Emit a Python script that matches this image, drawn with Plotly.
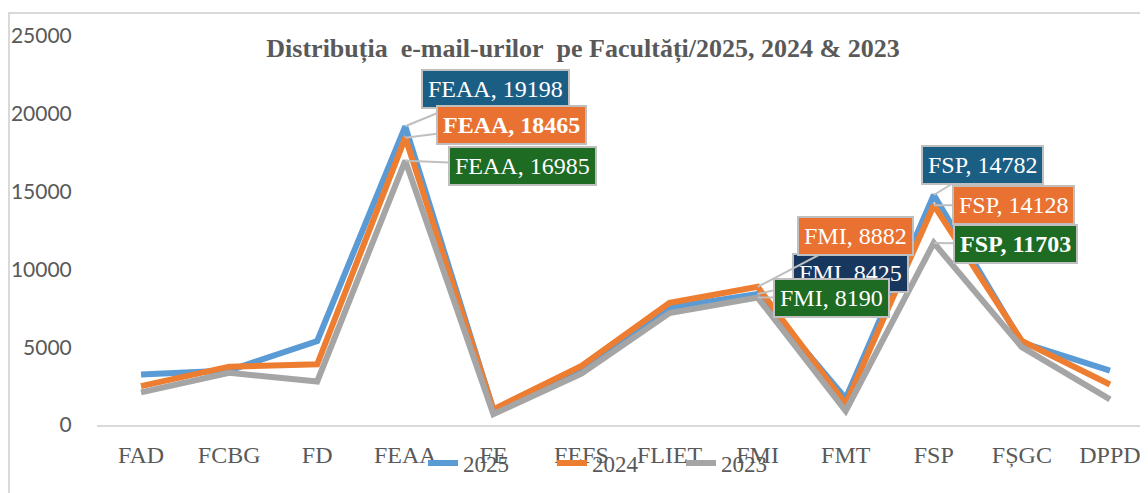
import plotly.graph_objects as go

categories = ["FAD", "FCBG", "FD", "FEAA", "FE", "FEFS", "FLIET", "FMI", "FMT", "FSP", "FȘGC", "DPPD"]
v2025 = [3250, 3500, 5400, 19198, 950, 3600, 7550, 8425, 1700, 14782, 5300, 3500]
v2024 = [2500, 3750, 3900, 18465, 1000, 3800, 7850, 8882, 1350, 14128, 5400, 2600]
v2023 = [2100, 3350, 2800, 16985, 700, 3300, 7200, 8190, 900, 11703, 5000, 1650]
series_names = ["2025", "2024", "2023"]
line_colors = ["#5B9BD5", "#ED7D31", "#A5A5A5"]
y_ticks = [0, 5000, 10000, 15000, 20000, 25000]

# labelled points: (series index, category, box colour, bold, pixel offset)
labels = [
    (0, "FEAA", "#1B5E84", False, (90, -37)),
    (1, "FEAA", "#E97132", True, (106, -13)),
    (2, "FEAA", "#1E6B24", False, (117, 5)),
    (0, "FMI", "#17375E", False, (93, -21)),
    (1, "FMI", "#E97132", False, (98, -51)),
    (2, "FMI", "#1E6B24", False, (74, 0)),
    (0, "FSP", "#1B5E84", False, (49, -30)),
    (1, "FSP", "#E97132", False, (80, 0)),
    (2, "FSP", "#1E6B24", True, (82, 1)),
]

all_values = [v2025, v2024, v2023]

fig = go.Figure()
for name, vals, col in zip(series_names, all_values, line_colors):
    fig.add_trace(go.Scatter(x=categories, y=vals, name=name, mode="lines",
                             line=dict(color=col, width=6)))

serif = "Liberation Serif, Times New Roman, serif"
for si, cat, bg, bold, (ax, ay) in labels:
    val = all_values[si][categories.index(cat)]
    txt = f"{cat}, {val}"
    if bold:
        txt = f"<b>{txt}</b>"
    fig.add_annotation(x=cat, y=val, text=txt, showarrow=True, arrowhead=0,
                       arrowwidth=2, arrowcolor="#BFBFBF", ax=ax, ay=ay,
                       axref="pixel", ayref="pixel",
                       bgcolor=bg, bordercolor="#BFBFBF", borderwidth=2, borderpad=5,
                       font=dict(family=serif, size=24, color="white"))

fig.add_shape(type="rect", xref="paper", yref="paper", x0=-0.0833, x1=1.02,
              y0=-0.3, y1=1.059, line=dict(color="#D9D9D9", width=2), layer="below")

fig.update_layout(
    width=1148, height=493,
    margin=dict(l=89, r=2, t=28, b=76, autoexpand=False),
    paper_bgcolor="white", plot_bgcolor="white",
    title=dict(text="Distribuția\u00a0 e-mail-urilor\u00a0 pe Facultăți/2025, 2024 &amp; 2023",
               x=575 / 1148, xanchor="center", y=1 - 40 / 493, yanchor="middle",
               font=dict(family=serif, size=26, color="#595959", weight="bold")),
    showlegend=True,
    legend=dict(orientation="h", xref="container", yref="container",
                x=415 / 1148, xanchor="left", y=1 - 455 / 493, yanchor="middle",
                bgcolor="rgba(0,0,0,0)", entrywidth=84, entrywidthmode="pixels",
                font=dict(family=serif, size=23, color="#595959")),
    xaxis=dict(range=[-0.5, 11.5], showgrid=False, showline=True, linecolor="#D9D9D9",
               linewidth=2, ticks="outside", ticklen=7, tickcolor="rgba(0,0,0,0)",
               tickfont=dict(family=serif, size=24, color="#595959"), zeroline=False),
    yaxis=dict(range=[0, 25000], tickvals=y_ticks, tickformat="d", showgrid=False,
               showline=False, zeroline=False, ticks="outside", ticklen=20,
               tickcolor="rgba(0,0,0,0)",
               tickfont=dict(family="Lato, Liberation Sans, sans-serif", size=21, color="#595959")),
)

fig.write_html("out.html")
